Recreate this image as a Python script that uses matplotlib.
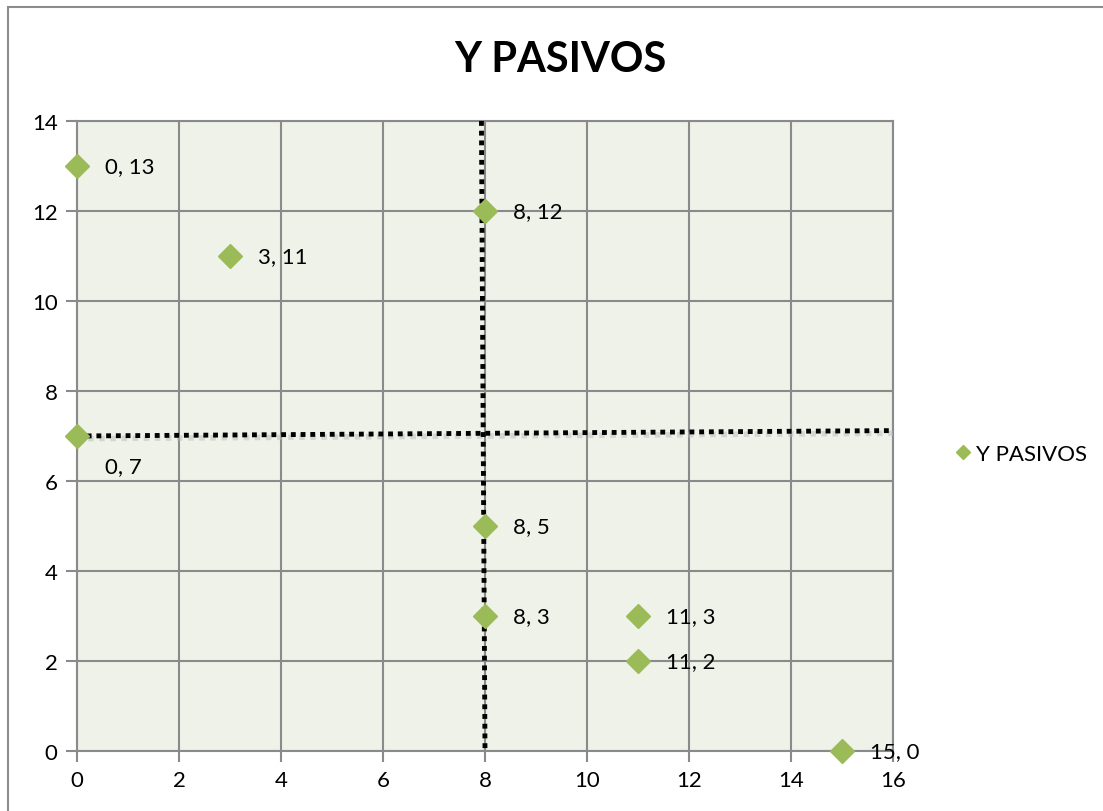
import matplotlib.pyplot as plt
from matplotlib.patches import Rectangle

# data
x_vals = [0, 3, 8, 0, 8, 8, 11, 11, 15]
y_vals = [13, 11, 12, 7, 5, 3, 3, 2, 0]
point_labels = ["0, 13", "3, 11", "8, 12", "0, 7", "8, 5", "8, 3", "11, 3", "11, 2", "15, 0"]
series_name = "Y PASIVOS"

# dotted guide lines (hand drawn shapes in the original)
h_line_x = [0, 16]
h_line_y = [7, 7.12]
v_line_x = [7.93, 8.0]
v_line_y = [14, 0]

plt.rcParams['font.family'] = ['Lato', 'DejaVu Sans']

fig = plt.figure(figsize=(11.03, 8.12), dpi=100)
ax = fig.add_axes([77 / 1103, 1 - 752 / 812, (893 - 77) / 1103, (752 - 122) / 812])

# outer chart border
fig.patches.append(Rectangle((8 / 1103, -0.1), 1.2, 1 - 8 / 812 + 0.1, transform=fig.transFigure,
                             fill=False, edgecolor='#8c8c8c', linewidth=1.5))

ax.set_facecolor('#eff2e9')
ax.set_xlim(0, 16)
ax.set_ylim(0, 14)
ax.set_xticks(range(0, 17, 2))
ax.set_yticks(range(0, 15, 2))
ax.grid(True, color='#8a8a8a', linewidth=1.5)
ax.set_axisbelow(True)
for s in ax.spines.values():
    s.set_color('#8a8a8a')
    s.set_linewidth(1.5)
ax.tick_params(length=8, width=1.5, color='#8a8a8a', labelsize=16, pad=6)

# guide lines with a faint shadow
ax.plot(h_line_x, [v - 0.06 for v in h_line_y], color='#bbbbbb', lw=4, alpha=0.5,
        linestyle=(0, (1, 1)), clip_on=False, zorder=3)
ax.plot(h_line_x, h_line_y, color='black', lw=3.5, linestyle=(0, (1, 1)),
        dash_capstyle='butt', clip_on=False, zorder=4)
ax.plot(v_line_x, v_line_y, color='black', lw=3.5, linestyle=(0, (1, 1)),
        dash_capstyle='butt', clip_on=False, zorder=4)

ax.plot(x_vals, y_vals, linestyle='none', marker='D', markersize=12.5, color='#9bbb59',
        clip_on=False, zorder=5, label=series_name)

for xv, yv, lab in zip(x_vals, y_vals, point_labels):
    if lab == "0, 7":
        ax.annotate(lab, (xv, yv), xytext=(20, -22), textcoords='offset points',
                    fontsize=16, va='center', ha='left')
    else:
        ax.annotate(lab, (xv, yv), xytext=(20, 0), textcoords='offset points',
                    fontsize=16, va='center', ha='left', annotation_clip=False)

fig.text(560 / 1103, 1 - 60 / 812, "Y PASIVOS", fontsize=30, fontweight='bold',
         ha='center', va='center')

fig.legend(loc='center left', bbox_to_anchor=(936 / 1103, 1 - 455 / 812), frameon=False,
           fontsize=16, handlelength=0.6, handletextpad=0.3, markerscale=0.6)

fig.savefig("out.png", dpi=100)
